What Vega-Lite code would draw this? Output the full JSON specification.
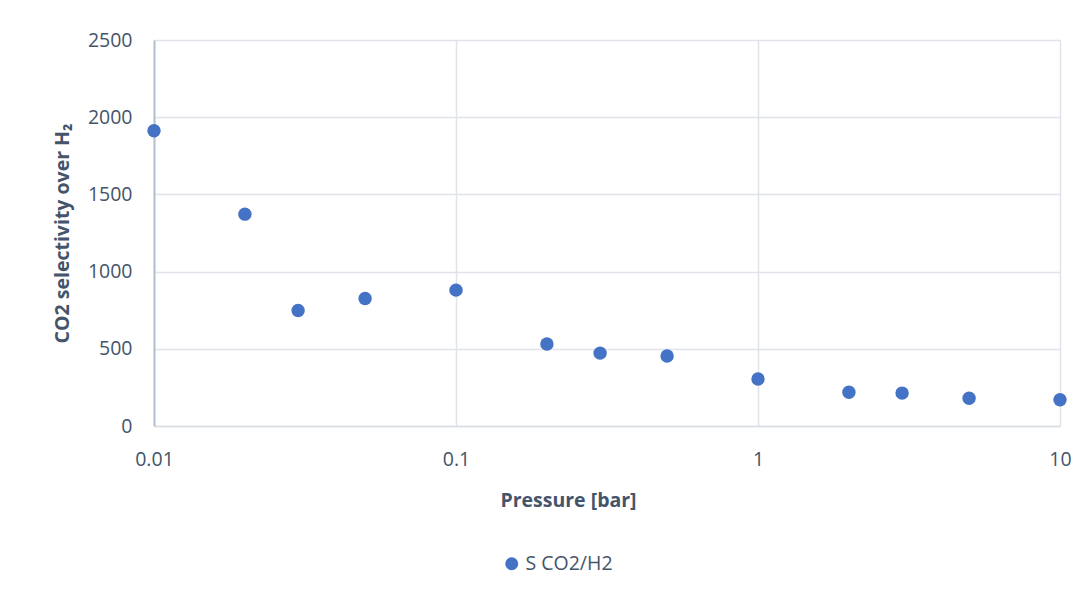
{
  "$schema": "https://vega.github.io/schema/vega-lite/v6.json",
  "width": 906,
  "height": 386,
  "autosize": "none",
  "padding": {"left": 154, "top": 40, "right": 29, "bottom": 170},
  "background": "white",
  "config": {
    "view": {"stroke": null},
    "font": "Open Sans"
  },
  "data": {
    "values": [
      {"p": 0.01, "s": 1912, "series": "S CO2/H2"},
      {"p": 0.02, "s": 1372, "series": "S CO2/H2"},
      {"p": 0.03, "s": 748, "series": "S CO2/H2"},
      {"p": 0.05, "s": 826, "series": "S CO2/H2"},
      {"p": 0.1, "s": 880, "series": "S CO2/H2"},
      {"p": 0.2, "s": 531, "series": "S CO2/H2"},
      {"p": 0.3, "s": 472, "series": "S CO2/H2"},
      {"p": 0.5, "s": 453, "series": "S CO2/H2"},
      {"p": 1, "s": 304, "series": "S CO2/H2"},
      {"p": 2, "s": 219, "series": "S CO2/H2"},
      {"p": 3, "s": 213, "series": "S CO2/H2"},
      {"p": 5, "s": 180, "series": "S CO2/H2"},
      {"p": 10, "s": 170, "series": "S CO2/H2"}
    ]
  },
  "mark": {"type": "point", "filled": true, "opacity": 1, "size": 180, "shape": "circle"},
  "encoding": {
    "x": {
      "field": "p",
      "type": "quantitative",
      "scale": {"type": "log", "domain": [0.01, 10], "nice": false},
      "axis": {
        "title": "Pressure [bar]",
        "values": [0.01, 0.1, 1, 10],
        "format": "~g",
        "grid": true,
        "gridColor": "#e0e4ea",
        "gridWidth": 1.5,
        "domainColor": "#d9dde4",
        "domainWidth": 1.5,
        "ticks": false,
        "labelFlush": false,
        "labelPadding": 24,
        "labelFontSize": 19.5,
        "labelColor": "#44546a",
        "titleFontSize": 19.5,
        "titleFontWeight": "bold",
        "titleColor": "#44546a",
        "titleX": 414,
        "titleY": 74,
        "titleBaseline": "middle",
        "titleAlign": "center"
      }
    },
    "y": {
      "field": "s",
      "type": "quantitative",
      "scale": {"domain": [0, 2500], "nice": false},
      "axis": {
        "title": "CO2 selectivity over H₂",
        "values": [0, 500, 1000, 1500, 2000, 2500],
        "format": "d",
        "grid": true,
        "gridColor": "#e0e4ea",
        "gridWidth": 1.5,
        "domainColor": "#b4bfcf",
        "domainWidth": 2,
        "ticks": false,
        "labelFlush": false,
        "labelPadding": 22,
        "labelFontSize": 19.5,
        "labelColor": "#44546a",
        "titleFontSize": 19.5,
        "titleFontWeight": "bold",
        "titleColor": "#44546a",
        "titleX": -92,
        "titleBaseline": "middle"
      }
    },
    "color": {
      "field": "series",
      "type": "nominal",
      "scale": {"range": ["#4472c4"]},
      "legend": {
        "title": null,
        "orient": "none",
        "legendX": 348,
        "legendY": 514,
        "symbolType": "circle",
        "symbolSize": 170,
        "labelFontSize": 19.5,
        "labelColor": "#44546a",
        "labelOffset": 4
      }
    }
  }
}
